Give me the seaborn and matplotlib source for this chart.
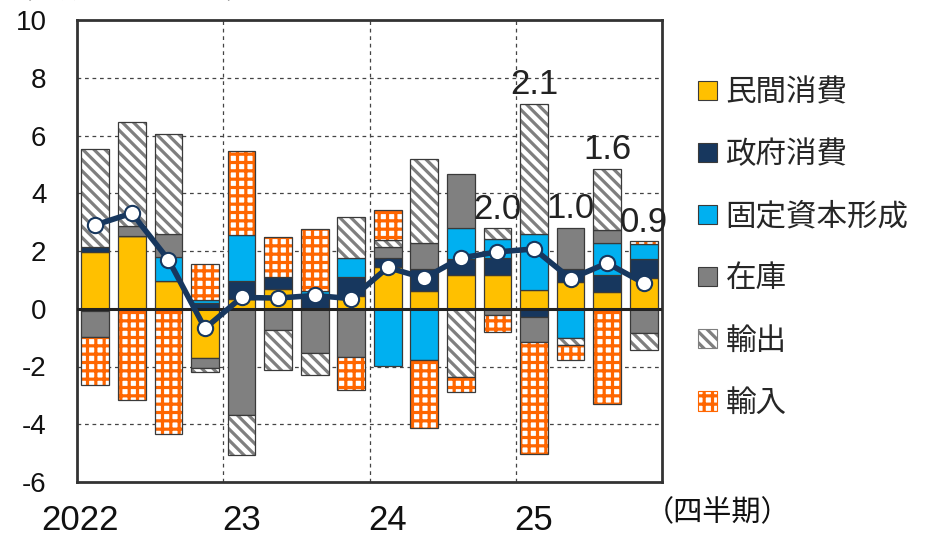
import numpy as np
import matplotlib; matplotlib.use("Agg")
import matplotlib.pyplot as plt
import matplotlib.transforms as mtransforms
from matplotlib.patches import Patch
import seaborn as sns

# quarterly contributions (2022Q1 - 2025Q4), percentage points
quarters = ["2022Q1","2022Q2","2022Q3","2022Q4","2023Q1","2023Q2","2023Q3","2023Q4",
            "2024Q1","2024Q2","2024Q3","2024Q4","2025Q1","2025Q2","2025Q3","2025Q4"]
minkan   = [1.98, 2.53, 0.95, -1.71, 0.35, 0.69, 0.00, 0.43, 1.43, 0.63, 1.18, 1.18, 0.66, 0.91, 0.58, 1.08]
seifu    = [0.15, 0.00, 0.00, 0.20, 0.60, 0.41, 0.48, 0.67, 0.33, 0.75, 0.56, 0.58, -0.29, 0.47, 0.60, 0.64]
kotei    = [-0.09, 0.00, 0.84, 0.10, 1.60, 0.00, 0.15, 0.67, -1.99, -1.79, 1.04, 0.66, 1.94, -1.01, 1.09, 0.53]
zaiko    = [-0.90, 0.32, 0.79, -0.34, -3.67, -0.74, -1.53, -1.68, 0.38, 0.90, 1.89, -0.22, -0.86, 1.43, 0.44, -0.84]
yushutsu = [3.40, 3.62, 3.46, -0.15, -1.38, -1.37, -0.78, 1.42, 0.25, 2.92, -2.36, 0.36, 4.50, -0.26, 2.12, -0.60]
yunyu    = [-1.65, -3.15, -4.35, 1.25, 2.92, 1.38, 2.13, -1.12, 1.04, -2.33, -0.52, -0.58, -3.87, -0.49, -3.29, 0.08]
gdp      = [2.90, 3.31, 1.70, -0.68, 0.39, 0.37, 0.46, 0.35, 1.43, 1.06, 1.76, 1.97, 2.07, 1.04, 1.58, 0.89]
year_labels = ["2022", "23", "24", "25"]
labelled_from = 11   # last five quarters carry a value label

NAVY = "#17375E"; EDGE = "#3a3a3a"
series = [
    ("民間消費", minkan, dict(color="#FFC000")),
    ("政府消費", seifu, dict(color=NAVY)),
    ("固定資本形成", kotei, dict(color="#00B0F0")),
    ("在庫", zaiko, dict(color="#808080")),
    ("輸出", yushutsu, dict(color="white", hatch="\\" * 3, hcol="#7F7F7F")),
    ("輸入", yunyu, dict(color="white", hatch="++", hcol="#FF6600")),
]

sns.set_theme(style="white")
plt.rcParams["font.family"] = ["Liberation Sans", "Noto Sans CJK JP", "DejaVu Sans"]
plt.rcParams["hatch.linewidth"] = 2.3

fig = plt.figure(figsize=(9.29, 5.37), dpi=100)
ax = fig.add_axes([77/929, 1-482/537, (662-77)/929, (482-20)/537])

x = np.arange(len(quarters)); w = 0.76
pos_b = np.zeros(len(x)); neg_b = np.zeros(len(x))
handles = []
for name, vals, st in series:
    v = np.array(vals)
    bottom = np.where(v >= 0, pos_b, neg_b)
    if "hatch" in st:
        ax.bar(x, v, w, bottom=bottom, color="white", edgecolor=st["hcol"], hatch=st["hatch"], linewidth=0, zorder=2)
        ax.bar(x, v, w, bottom=bottom, fill=False, edgecolor=EDGE, linewidth=0.9, zorder=2)
        handles.append(Patch(facecolor="white", edgecolor=st["hcol"], hatch=st["hatch"], linewidth=0.8, label=name))
    else:
        ax.bar(x, v, w, bottom=bottom, color=st["color"], edgecolor=EDGE, linewidth=0.9, zorder=2)
        handles.append(Patch(facecolor=st["color"], edgecolor=EDGE, linewidth=0.8, label=name))
    pos_b += np.where(v >= 0, v, 0); neg_b += np.where(v < 0, v, 0)

ax.axhline(0, color="#222", lw=2.2, zorder=3)
sns.lineplot(x=x, y=gdp, ax=ax, color=NAVY, lw=4, marker="o", markersize=11,
             markerfacecolor="white", markeredgecolor=NAVY, markeredgewidth=1.5, zorder=4)

for i in range(labelled_from, len(x)):
    ax.text(x[i], pos_b[i] + 0.1, f"{gdp[i]:.1f}", ha="center", va="bottom", fontsize=25, color="#222", zorder=5)

ax.set_xlim(-0.5, len(x) - 0.5); ax.set_ylim(-6, 10)
ax.set_yticks(np.arange(-6, 11, 2))
ax.set_yticklabels([f"{t}" for t in range(-6, 11, 2)], fontsize=20)
for t in range(-4, 10, 2):
    ax.axhline(t, color="#444", lw=0.9, ls=(0, (3, 3)), zorder=1)
for xv in [3.5, 7.5, 11.5]:
    ax.axvline(xv, color="#444", lw=0.9, ls=(0, (3, 3)), zorder=1)
ax.set_xticks([0, 4, 8, 12]); ax.set_xticklabels(year_labels, fontsize=25)
ax.tick_params(axis="both", length=0, colors="#111")
ax.tick_params(axis="y", pad=22); ax.tick_params(axis="x", pad=16)
lab0 = ax.get_xticklabels()[0]
lab0.set_transform(lab0.get_transform() + mtransforms.ScaledTranslation(-0.15, 0, fig.dpi_scale_trans))
for s in ax.spines.values():
    s.set_visible(True); s.set_color("#333"); s.set_linewidth(2)
ax.set_xlabel(""); ax.set_ylabel("")

fig.text(718/929, 1-513/537, "（四半期）", ha="center", va="center", fontsize=21, color="#111")
fig.text(0.005, 1-4/537, "（前期比年率、％）", ha="left", va="bottom", fontsize=20, color="#333")

fig.legend(handles=handles, loc="upper left", bbox_to_anchor=(686/929, 1-66/537), frameon=False,
           fontsize=22, handlelength=0.6, handleheight=0.6, handletextpad=0.3, labelspacing=1.05,
           borderaxespad=0)

fig.savefig("out.png", dpi=100)
